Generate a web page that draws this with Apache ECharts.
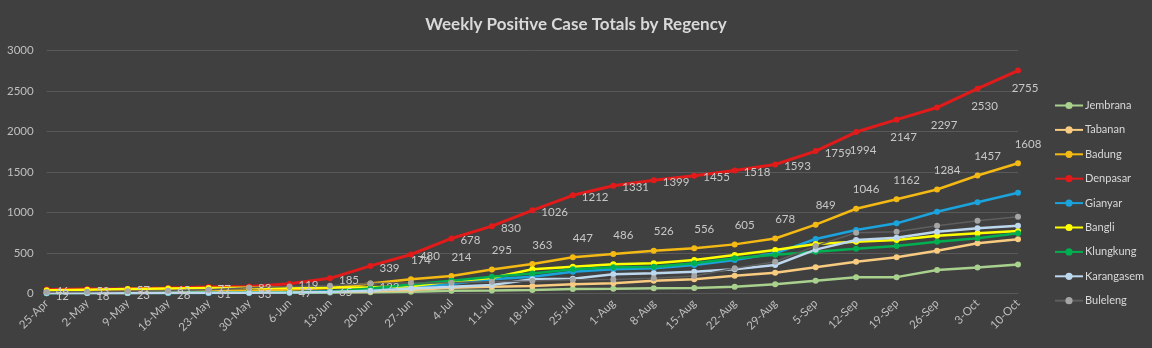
<!DOCTYPE html>
<html>
<head>
<meta charset="utf-8">
<script src="https://cdn.jsdelivr.net/npm/echarts@6/dist/echarts.min.js"></script>
<style>
html,body{margin:0;padding:0;background:#404040;}
#c{width:1152px;height:348px;}
</style>
</head>
<body>
<div id="c"></div>
<script>
const categories = ['25-Apr','2-May','9-May','16-May','23-May','30-May','6-Jun','13-Jun','20-Jun','27-Jun','4-Jul','11-Jul','18-Jul','25-Jul','1-Aug','8-Aug','15-Aug','22-Aug','29-Aug','5-Sep','12-Sep','19-Sep','26-Sep','3-Oct','10-Oct'];
const yTicks = [0,500,1000,1500,2000,2500,3000];
const jembrana   = [2,3,4,5,6,7,8,10,14,20,32,34,41,53,57,62,66,82,111,156,197,200,288,319,357];
const tabanan    = [3,4,5,6,8,10,13,18,25,40,68,82,90,111,124,156,173,218,255,321,391,445,527,618,667];
const badung     = [12,18,23,26,31,33,47,65,122,174,214,295,363,447,486,526,556,605,678,849,1046,1162,1284,1457,1608];
const denpasar   = [46,53,57,65,77,83,119,185,339,480,678,830,1026,1212,1331,1399,1455,1518,1593,1759,1994,2147,2297,2530,2755];
const gianyar    = [2,3,3,4,5,6,10,25,41,75,115,173,205,267,297,309,350,412,494,671,782,865,1009,1125,1244];
const bangli     = [38,45,52,58,64,68,70,72,76,88,150,190,297,329,358,371,412,473,535,609,638,659,712,742,770];
const klungkung  = [5,6,7,8,9,10,12,20,60,110,156,205,245,297,321,329,371,432,478,514,551,585,638,680,742];
const karangasem = [3,4,5,6,7,8,10,15,30,60,80,103,173,180,235,247,267,297,350,540,659,687,761,803,836];
const buleleng   = [15,20,26,33,45,70,85,94,120,128,131,144,152,168,172,185,214,309,391,585,749,761,836,897,947];

const labelColor = '#C8C8C8';
const FONT = 'Lato, "Open Sans", sans-serif';

function withLabels(values, kind) {
  return values.map((v, i) => {
    let lab;
    if (kind === 'den') {
      if (i < 20) lab = {show:true, position:'right', distance:6, offset:[0, 2]};
      else lab = {show:true, position:'bottom', distance:6, offset:[7, 3]};
    } else {
      if (i < 9) lab = {show:true, position:'right', distance:6, offset:[0, 4]};
      else lab = {show:true, position:'top', distance:4, offset:[10, -6]};
    }
    return {value: v, label: lab};
  });
}

function mk(name, data, color, width, opts) {
  opts = opts || {};
  return {
    name: name,
    type: 'line',
    data: data,
    symbol: 'circle',
    symbolSize: 6,
    showSymbol: true,
    lineStyle: {color: color, width: width},
    itemStyle: {color: opts.marker || color},
    label: {show:false, color: labelColor, fontSize: 11.5, fontFamily: FONT},
    emphasis: {disabled: true},
    animation: false
  };
}

const chart = echarts.init(document.getElementById('c'), null, {renderer:'canvas'});
chart.setOption({
  backgroundColor: '#404040',
  animation: false,
  title: {
    text: 'Weekly Positive Case Totals by Regency',
    left: 'center',
    top: 11,
    textStyle: {color:'#D9D9D9', fontSize:17, fontWeight:'bold', fontFamily: FONT}
  },
  legend: {
    orient: 'vertical',
    left: 1049,
    top: 95,
    itemWidth: 28,
    itemHeight: 9,
    itemGap: 13.4,
    textStyle: {color:'#D9D9D9', fontSize: 11, fontFamily: FONT, padding:[0,0,0,-3]},
    data: ['Jembrana','Tabanan','Badung','Denpasar','Gianyar','Bangli','Klungkung','Karangasem','Buleleng']
  },
  grid: {left: 46.7, right: 134, top: 50.7, bottom: 54.7, containLabel: false},
  xAxis: {
    type: 'category',
    data: categories,
    boundaryGap: false,
    axisLine: {show: true, lineStyle: {color:'#595959'}},
    axisTick: {show: false},
    axisLabel: {rotate: 45, color:'#BFBFBF', fontSize: 11.5, fontFamily: FONT, margin: 8, interval: 0}
  },
  yAxis: {
    type: 'value',
    min: yTicks[0],
    max: yTicks[yTicks.length-1],
    interval: yTicks[1]-yTicks[0],
    axisLine: {show:false},
    axisTick: {show:false},
    splitLine: {lineStyle: {color:'#595959', width:1}},
    axisLabel: {color:'#BFBFBF', fontSize: 11.5, fontFamily: FONT, margin: 13, formatter: v => String(v)}
  },
  series: [
    mk('Jembrana', jembrana, '#A9D18E', 2.5),
    mk('Tabanan', tabanan, '#F8CB80', 2.5),
    mk('Badung', withLabels(badung, 'bad'), '#F5B914', 2.5),
    mk('Denpasar', withLabels(denpasar, 'den'), '#E11A1A', 3),
    mk('Gianyar', gianyar, '#1AA3DD', 2.5),
    mk('Bangli', bangli, '#FFFF00', 2.5),
    mk('Klungkung', klungkung, '#00B050', 2.5),
    mk('Karangasem', karangasem, '#BDD7EE', 2.5),
    mk('Buleleng', buleleng, '#5E5E5E', 1.5, {marker:'#A5A5A5'})
  ]
});
</script>
</body>
</html>
